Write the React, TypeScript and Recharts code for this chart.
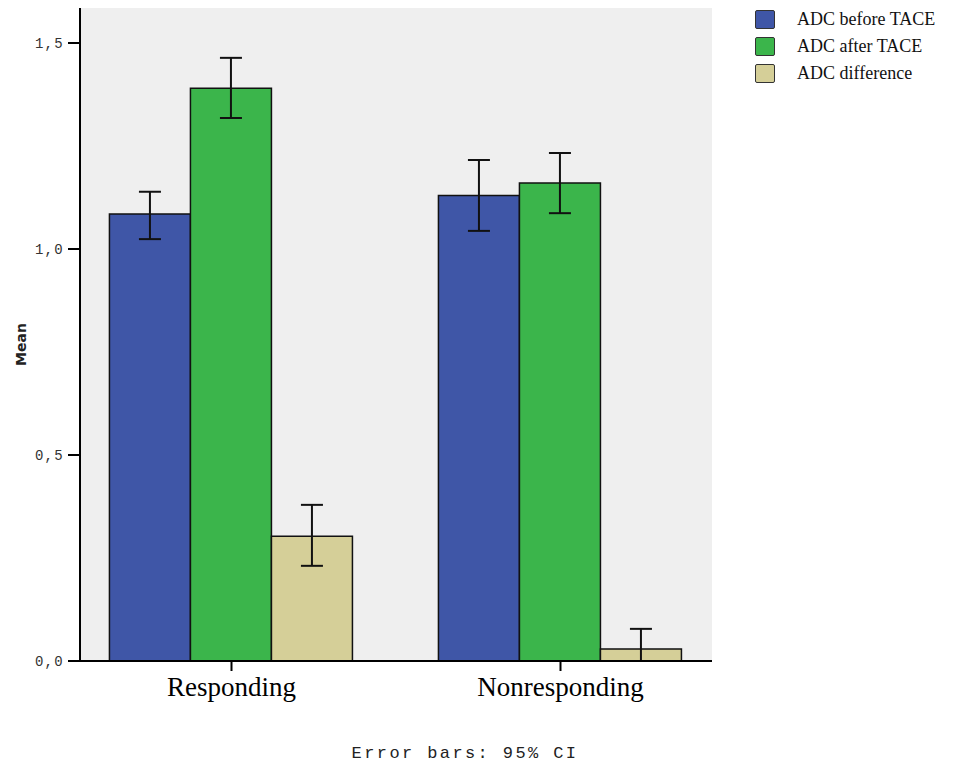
import React from "react";
import { BarChart, Bar, XAxis, YAxis, CartesianGrid, Legend, ErrorBar } from "recharts";

const groups = ["Responding", "Nonresponding"];
const seriesNames = ["ADC before TACE", "ADC after TACE", "ADC difference"];
const colors = ["#3F56A7", "#3BB54B", "#D5CF98"];

const adcBefore = [1.085, 1.13];
const adcBeforeLow = [1.024, 1.044];
const adcBeforeHigh = [1.139, 1.216];

const adcAfter = [1.39, 1.16];
const adcAfterLow = [1.318, 1.087];
const adcAfterHigh = [1.464, 1.233];

const adcDiff = [0.303, 0.029];
const adcDiffLow = [0.231, 0];
const adcDiffHigh = [0.379, 0.078];

const yTicks = [0, 0.5, 1, 1.5];

const data = groups.map((g, i) => ({
  group: g,
  before: adcBefore[i],
  beforeErr: [adcBefore[i] - adcBeforeLow[i], adcBeforeHigh[i] - adcBefore[i]],
  after: adcAfter[i],
  afterErr: [adcAfter[i] - adcAfterLow[i], adcAfterHigh[i] - adcAfter[i]],
  diff: adcDiff[i],
  diffErr: [adcDiff[i] - adcDiffLow[i], adcDiffHigh[i] - adcDiff[i]],
}));

const mono = "'Liberation Mono', 'DejaVu Sans Mono', monospace";
const serif = "'Liberation Serif', 'DejaVu Serif', serif";

function LegendBox() {
  return (
    <div style={{ fontFamily: serif, fontSize: 18, color: "#111" }}>
      {seriesNames.map((n, i) => (
        <div key={n} style={{ display: "flex", alignItems: "center", height: 27 }}>
          <span
            style={{
              width: 20,
              height: 19,
              background: colors[i],
              border: "1.5px solid #333",
              borderRadius: 2,
              marginRight: 22,
              boxSizing: "border-box",
            }}
          />
          <span>{n}</span>
        </div>
      ))}
    </div>
  );
}

export default function App() {
  return (
    <div style={{ position: "absolute", left: 0, top: 0, background: "#fff" }}>
      <BarChart
        width={968}
        height={766}
        data={data}
        margin={{ top: 8, right: 43, left: 0, bottom: 0 }}
        barCategoryGap="12.9%"
        barGap={0}
      >
        <CartesianGrid fill="#EFEFEF" horizontal={false} vertical={false} />
        <XAxis
          dataKey="group"
          height={105}
          padding={{ left: -13, right: -13 }}
          stroke="#000"
          strokeWidth={2}
          tickSize={10}
          tickMargin={6}
          tick={{ fontFamily: serif, fontSize: 27, fill: "#000" }}
          label={{
            value: "Error bars: 95% CI",
            position: "insideBottom",
            offset: 8,
            dx: 69,
            style: { fontFamily: mono, fontSize: 17, letterSpacing: 2.4, fill: "#222" },
          }}
        />
        <XAxis xAxisId="top" orientation="top" dataKey="group" height={0} tick={false} tickLine={false} stroke="#000" strokeWidth={2} />
        <YAxis
          width={80}
          domain={[0, 1.585]}
          ticks={yTicks}
          allowDataOverflow
          stroke="#000"
          strokeWidth={2}
          tickSize={12}
          tickMargin={4}
          tickFormatter={(v: number) => v.toFixed(1).replace(".", ",")}
          tick={{ fontFamily: mono, fontSize: 14, letterSpacing: 1.3, fill: "#333" }}
          label={{
            value: "Mean",
            angle: -90,
            position: "insideLeft",
            offset: 21,
            dy: 10,
            style: { fontFamily: "'DejaVu Sans', sans-serif", fontWeight: "bold", fontSize: 14, fill: "#222", textAnchor: "middle" },
          }}
        />
        <YAxis yAxisId="right" orientation="right" width={0} tick={false} tickLine={false} stroke="#000" strokeWidth={2} />
        <Legend
          layout="vertical"
          verticalAlign="top"
          align="right"
          content={() => <LegendBox />}
          wrapperStyle={{ left: 755, top: 6, width: 213 }}
        />
        <Bar dataKey="before" name={seriesNames[0]} fill={colors[0]} stroke="#111" strokeWidth={1.5} isAnimationActive={false}>
          <ErrorBar dataKey="beforeErr" width={11} stroke="#111" strokeWidth={2} direction="y" />
        </Bar>
        <Bar dataKey="after" name={seriesNames[1]} fill={colors[1]} stroke="#111" strokeWidth={1.5} isAnimationActive={false}>
          <ErrorBar dataKey="afterErr" width={11} stroke="#111" strokeWidth={2} direction="y" />
        </Bar>
        <Bar dataKey="diff" name={seriesNames[2]} fill={colors[2]} stroke="#111" strokeWidth={1.5} isAnimationActive={false}>
          <ErrorBar dataKey="diffErr" width={11} stroke="#111" strokeWidth={2} direction="y" />
        </Bar>
      </BarChart>
    </div>
  );
}
